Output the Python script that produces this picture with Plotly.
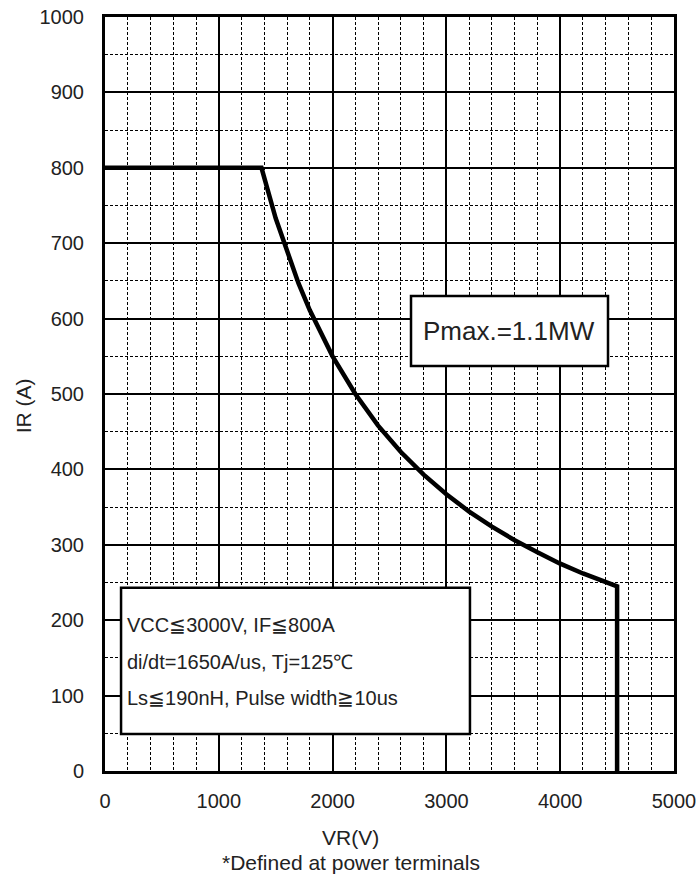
import plotly.graph_objects as go

# Data
VR = [0, 1375, 1500, 1600, 1700, 1800, 1900, 2000, 2200, 2400, 2600, 2800,
      3000, 3200, 3400, 3600, 3800, 4000, 4200, 4400, 4500, 4500]
IR = [800, 800, 733, 688, 647, 611, 579, 550, 500, 458, 423, 393,
      367, 344, 324, 306, 290, 275, 262, 250, 245, 0]

x_ticks = [0, 1000, 2000, 3000, 4000, 5000]
y_ticks = [0, 100, 200, 300, 400, 500, 600, 700, 800, 900, 1000]

FONT = "Liberation Sans"
TXT = "#222222"

fig = go.Figure()
fig.add_trace(go.Scatter(x=VR, y=IR, mode="lines",
                         line=dict(color="black", width=4.5),
                         showlegend=False, hoverinfo="skip"))

axis_common = dict(
    showline=True, linewidth=3, linecolor="black", mirror=True,
    showgrid=True, gridcolor="black", gridwidth=2,
    zeroline=False, ticks="", automargin=False,
    tickfont=dict(family=FONT, size=20, color=TXT),
)

fig.update_xaxes(range=[0, 5000], tickvals=x_ticks,
                 ticktext=[str(v) for v in x_ticks],
                 minor=dict(dtick=200, showgrid=True, gridcolor="black",
                            gridwidth=1, griddash="3px,2px"),
                 ticklabelstandoff=10, **axis_common)
fig.update_yaxes(range=[0, 1000], tickvals=y_ticks,
                 ticktext=[str(v) for v in y_ticks],
                 minor=dict(dtick=50, showgrid=True, gridcolor="black",
                            gridwidth=1, griddash="3px,2px"),
                 ticklabelstandoff=14, **axis_common)

# Boxes
fig.add_shape(type="rect", xref="x", yref="y", x0=2689, x1=4420, y0=537, y1=630,
              line=dict(color="black", width=2.5), fillcolor="white", layer="above")
fig.add_shape(type="rect", xref="x", yref="y", x0=141, x1=3207, y0=49, y1=243,
              line=dict(color="black", width=2.5), fillcolor="white", layer="above")

fig.add_annotation(x=3553, y=583, xref="x", yref="y", text="Pmax.=1.1MW",
                   showarrow=False, font=dict(family=FONT, size=26, color=TXT))

box_lines = ["VCC≦3000V, IF≦800A",
             "di/dt=1650A/us, Tj=125℃",
             "Ls≦190nH, Pulse width≧10us"]
box_y = [193, 145, 97]
for t, yv in zip(box_lines, box_y):
    fig.add_annotation(x=180, y=yv, xref="x", yref="y", text=t, xanchor="left",
                       showarrow=False, font=dict(family=FONT, size=20, color=TXT))

# Axis titles
fig.add_annotation(x=0.4323, y=-0.106, xref="paper", yref="paper", text="VR(V)",
                   showarrow=False, font=dict(family=FONT, size=21, color=TXT))
fig.add_annotation(x=0.4323, y=-0.139, xref="paper", yref="paper",
                   text="*Defined at power terminals",
                   showarrow=False, font=dict(family=FONT, size=21, color=TXT))
fig.add_annotation(x=-0.168, y=0.485, xref="paper", yref="paper", text="IR (A)",
                   textangle=-90, showarrow=False,
                   font=dict(family=FONT, size=21, color=TXT))

fig.update_layout(
    width=698, height=891,
    margin=dict(l=105, r=24, t=17, b=120),
    paper_bgcolor="white", plot_bgcolor="white",
    font=dict(family=FONT, color=TXT),
)

fig.write_html("out.html", config={"displayModeBar": False},
               post_script="document.body.style.margin='0';document.body.style.overflow='hidden';")
